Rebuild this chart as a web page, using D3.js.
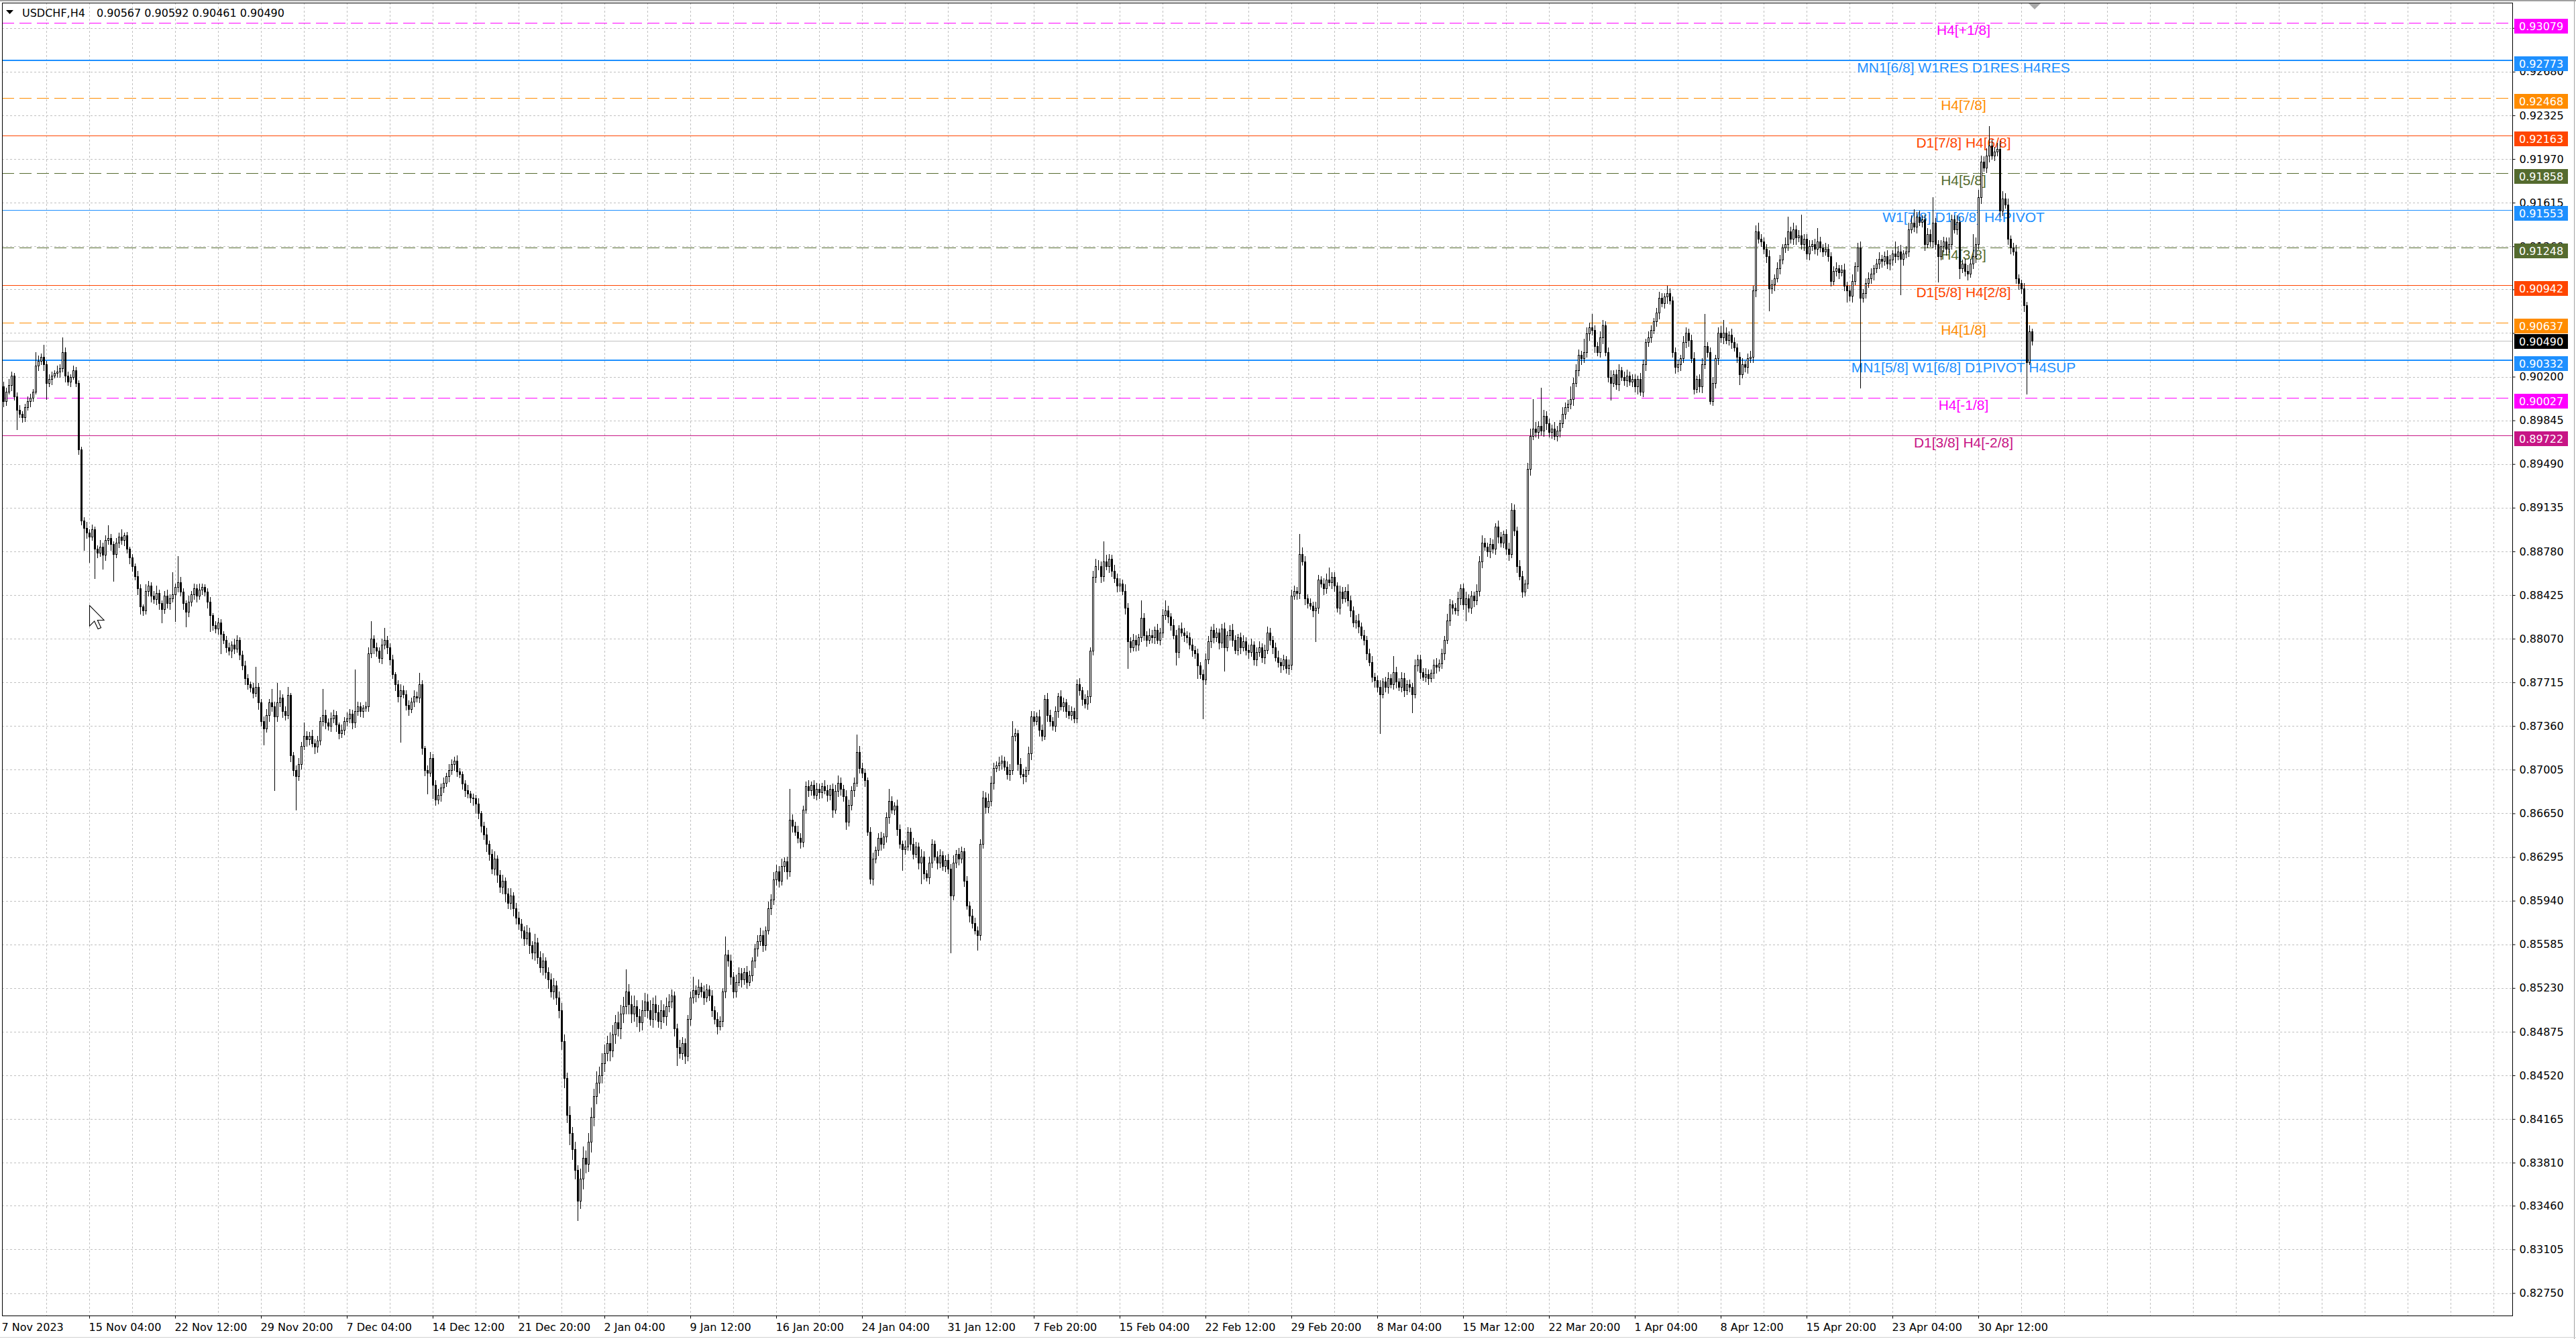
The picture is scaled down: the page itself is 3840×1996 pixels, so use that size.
<!DOCTYPE html>
<html><head><meta charset="utf-8">
<script src="https://cdn.jsdelivr.net/npm/d3@7/dist/d3.min.js"></script>
<style>
html,body{margin:0;padding:0;background:#fff;}
svg{display:block;}
</style></head><body>
<svg id="chart" width="3840" height="1996"></svg>
<script>
// ---------------- DATA (prices in pips, 1 pip = 0.0001) ----------------
const symbolTitle = "USDCHF,H4";
const firstOpen = 9012;
const closes = [
9000,9008,9013,9021,9004,8993,8990,8987,8995,9000,9003,9008,9029,9033,9036,9030,
9015,9018,9021,9023,9024,9027,9040,9021,9016,9020,9025,9015,8961,8903,8897,8893,
8890,8896,8880,8877,8882,8875,8887,8889,8884,8876,8885,8890,8887,8891,8880,8873,
8866,8858,8848,8833,8830,8846,8850,8842,8839,8844,8836,8831,8842,8836,8840,8843,
8849,8853,8845,8836,8829,8837,8843,8848,8842,8847,8849,8845,8837,8826,8818,8815,
8820,8811,8806,8800,8797,8802,8799,8806,8794,8785,8775,8770,8767,8763,8768,8755,
8740,8734,8745,8755,8752,8744,8755,8759,8748,8745,8761,8712,8700,8695,8705,8720,
8728,8725,8728,8722,8719,8724,8740,8745,8739,8736,8742,8745,8737,8730,8733,8740,
8742,8746,8739,8748,8752,8748,8751,8752,8795,8807,8800,8797,8791,8802,8806,8800,
8790,8778,8770,8760,8765,8762,8753,8750,8756,8760,8759,8770,8718,8700,8698,8710,
8688,8676,8680,8686,8690,8695,8700,8705,8708,8699,8697,8689,8684,8681,8678,8677,
8673,8665,8655,8648,8640,8632,8620,8628,8615,8605,8610,8600,8592,8598,8588,8580,
8575,8570,8563,8568,8558,8552,8560,8548,8540,8545,8536,8530,8520,8525,8515,8505,
8480,8450,8420,8405,8392,8375,8350,8368,8385,8380,8398,8418,8435,8446,8452,8462,
8470,8478,8472,8485,8495,8490,8502,8508,8520,8510,8502,8508,8500,8495,8505,8512,
8505,8498,8510,8503,8496,8505,8500,8508,8512,8517,8490,8475,8470,8478,8468,8498,
8515,8521,8518,8524,8520,8515,8522,8517,8505,8498,8492,8496,8520,8550,8545,8532,
8520,8528,8535,8530,8536,8528,8533,8545,8555,8561,8566,8558,8570,8588,8595,8611,
8618,8610,8622,8626,8618,8660,8655,8650,8645,8642,8668,8687,8684,8688,8680,8685,
8682,8687,8684,8680,8685,8668,8683,8690,8685,8679,8658,8672,8684,8690,8715,8702,
8698,8692,8650,8612,8628,8635,8645,8640,8646,8662,8675,8668,8671,8652,8640,8636,
8638,8650,8640,8632,8638,8625,8630,8616,8613,8625,8640,8630,8625,8631,8622,8627,
8620,8598,8625,8632,8628,8634,8610,8590,8582,8576,8570,8566,8640,8678,8670,8675,
8690,8702,8704,8706,8708,8703,8697,8700,8728,8730,8705,8697,8695,8700,8714,8744,
8740,8744,8733,8728,8758,8745,8740,8736,8748,8760,8752,8755,8748,8745,8748,8742,
8770,8765,8758,8754,8760,8797,8857,8866,8866,8858,8870,8866,8872,8862,8856,8850,
8852,8846,8832,8805,8800,8806,8802,8808,8824,8810,8806,8810,8808,8814,8806,8812,
8826,8830,8825,8818,8810,8796,8815,8812,8810,8808,8802,8798,8795,8785,8778,8774,
8790,8805,8814,8808,8812,8804,8815,8800,8810,8814,8806,8798,8808,8800,8805,8798,
8796,8802,8790,8796,8800,8792,8798,8812,8806,8800,8792,8788,8785,8790,8783,8786,
8842,8846,8844,8876,8870,8840,8836,8834,8830,8832,8855,8852,8848,8855,8853,8857,
8850,8832,8845,8840,8846,8838,8830,8820,8822,8817,8810,8806,8795,8788,8776,8773,
8768,8762,8772,8768,8775,8770,8780,8772,8768,8775,8765,8770,8768,8762,8785,8790,
8780,8776,8778,8775,8779,8786,8784,8787,8795,8806,8822,8835,8832,8830,8840,8848,
8835,8840,8832,8842,8838,8846,8870,8885,8882,8878,8884,8880,8898,8890,8885,8892,
8880,8876,8912,8895,8866,8858,8845,8852,8945,8972,8978,8975,8980,8976,8988,8982,
8975,8978,8972,8976,8982,8990,8995,8998,9002,9015,9025,9038,9035,9040,9055,9060,
9058,9045,9040,9052,9062,9040,9020,9015,9022,9014,9025,9020,9017,9021,9016,9018,
9012,9018,9008,9030,9048,9052,9058,9065,9072,9084,9080,9085,9088,9082,9040,9028,
9030,9035,9048,9056,9050,9035,9010,9018,9012,9030,9045,9040,9000,9015,9035,9056,
9052,9056,9050,9054,9048,9044,9036,9022,9030,9028,9035,9036,9090,9138,9132,9130,
9124,9118,9092,9095,9100,9108,9115,9125,9128,9138,9132,9140,9133,9135,9128,9132,
9120,9126,9128,9124,9130,9125,9122,9124,9118,9098,9106,9108,9105,9107,9094,9090,
9086,9098,9110,9125,9084,9088,9096,9100,9104,9108,9112,9116,9114,9118,9112,9115,
9120,9118,9122,9116,9120,9122,9140,9145,9142,9150,9146,9148,9128,9136,9130,9145,
9128,9118,9126,9130,9124,9128,9148,9140,9146,9108,9112,9106,9104,9112,9118,9128,
9166,9195,9190,9200,9208,9200,9203,9205,9155,9165,9160,9132,9125,9122,9100,9096,
9092,9078,9032,9056.7,9049
];
// upper wick length above the body (pips)
const highWicks = [
4,3,5,3,2,3,4,2,3,4,3,2,11,4,3,10,
3,4,3,2,5,3,12,4,3,2,4,3,2,2,3,5,
3,4,2,3,5,3,4,10,3,2,4,3,6,2,3,2,
3,2,4,3,2,5,4,3,4,6,3,2,4,5,3,18,
3,21,4,3,2,5,3,4,3,5,3,2,3,4,2,3,
4,3,2,3,4,3,5,4,2,3,4,3,2,4,16,3,
3,4,5,3,11,4,16,6,3,4,7,2,3,4,5,3,
11,4,3,5,3,4,3,21,4,3,5,4,3,2,4,3,
5,4,3,34,4,3,2,4,5,14,3,4,3,5,10,3,
3,4,2,3,5,4,3,4,3,5,4,9,3,2,4,5,
3,4,5,3,4,3,5,4,3,4,3,2,3,4,2,3,
3,4,2,3,5,3,4,6,3,4,5,3,4,6,3,4,
5,4,3,6,4,3,7,4,5,6,3,4,5,6,4,5,
6,5,4,7,5,6,4,8,9,6,7,8,6,9,7,8,
7,6,9,8,6,9,7,8,18,6,7,9,5,6,8,7,
6,8,5,7,6,8,5,7,6,5,3,4,6,5,4,3,
5,11,4,6,3,5,4,3,4,3,5,4,3,15,4,5,
4,6,5,4,3,5,4,3,4,5,6,4,3,5,4,6,
5,4,6,3,4,25,4,3,5,4,3,4,5,3,4,5,
4,3,5,4,3,4,5,6,4,3,5,4,3,4,14,5,
4,3,2,4,5,3,4,5,3,4,10,4,3,5,4,3,
5,4,3,5,4,3,6,4,3,5,4,3,4,5,3,4,
5,4,6,3,5,4,3,4,3,5,4,3,4,5,4,6,
5,4,3,5,4,3,4,5,12,4,3,5,4,3,5,4,
4,3,5,4,3,5,4,3,4,3,5,4,3,5,4,3,
4,5,3,4,5,3,5,6,5,4,16,5,4,3,5,4,
4,3,5,4,3,5,4,3,14,4,3,5,4,3,5,4,
5,8,4,3,5,4,3,5,4,3,4,5,3,4,3,4,
5,4,3,5,4,3,4,5,3,4,5,4,3,4,5,3,
4,5,3,4,5,3,4,5,4,3,4,5,3,4,3,4,
5,4,3,16,5,4,3,4,3,5,4,3,4,5,10,4,
4,3,5,4,3,5,4,3,4,5,3,4,3,4,5,3,
4,5,3,4,5,3,13,4,3,5,4,3,4,3,5,4,
4,3,5,4,3,4,5,3,4,3,5,4,3,4,5,3,
4,5,3,4,3,5,4,6,4,3,5,4,3,5,4,3,
4,5,5,4,3,5,4,3,5,6,24,5,4,31,5,4,
4,3,5,4,3,5,4,3,10,4,5,4,3,11,5,4,
11,4,3,5,4,3,4,5,3,4,5,3,4,5,3,4,
4,3,5,4,3,5,4,3,4,5,4,3,6,4,3,4,
4,3,5,4,3,4,5,3,4,5,26,3,4,5,3,4,
5,10,4,3,5,4,3,4,5,3,4,5,4,5,7,4,
3,4,5,4,3,5,4,3,5,12,4,5,3,4,17,4,
4,5,3,4,11,4,3,5,4,3,4,5,3,4,5,3,
4,5,3,4,5,3,4,5,4,3,4,5,3,4,5,4,
3,10,4,5,3,4,5,6,11,4,5,3,4,5,4,21,
4,3,5,4,3,5,4,3,5,4,3,4,5,4,18,5,
6,5,4,6,16,5,4,5,7,6,4,5,3,4,5,3,
3,4,3,5,2.5
];
// lower wick length below the body (pips)
const lowWicks = [
4,3,2,4,3,16,3,4,3,2,4,3,2,4,3,5,
13,3,4,2,3,4,3,5,3,4,2,3,4,3,18,4,
21,3,24,4,3,11,4,3,5,22,3,4,3,4,3,5,
4,3,5,6,4,3,4,5,3,4,5,11,3,4,5,3,
22,4,3,5,12,4,3,4,5,3,4,3,5,13,4,3,
4,16,3,4,3,5,4,3,4,3,5,4,3,4,3,5,
4,13,3,5,4,60,4,3,5,4,3,5,4,27,3,4,
3,5,4,3,5,4,3,4,5,3,4,3,5,4,3,4,
4,3,5,4,3,4,5,3,4,3,5,4,3,4,3,5,
4,3,5,4,37,3,4,5,3,4,3,4,5,4,17,3,
11,4,3,5,4,3,4,3,5,4,3,4,5,3,4,5,
8,4,5,4,6,5,4,5,6,4,5,7,4,5,6,5,
4,6,5,4,7,5,6,5,4,6,5,7,4,6,5,6,
7,8,6,9,8,7,16,6,8,7,6,8,7,6,8,6,
7,6,8,5,7,6,8,7,6,8,7,6,8,7,6,5,
6,5,7,6,5,6,5,7,4,5,6,15,4,5,6,4,
5,4,6,3,4,5,3,4,5,4,6,3,4,5,4,6,
5,4,3,6,4,5,3,4,5,6,3,5,4,3,5,4,
4,5,3,4,6,4,5,3,4,5,4,3,5,4,3,4,
5,4,3,5,4,6,3,4,5,4,6,3,4,5,3,4,
4,5,3,4,5,3,4,5,3,4,5,3,4,5,3,17,
4,3,5,4,3,5,17,4,3,5,4,3,5,4,3,4,
4,46,3,4,5,3,4,3,5,4,3,12,4,3,5,4,
4,5,3,4,5,3,4,5,3,4,5,3,6,4,3,5,
4,3,5,4,3,5,4,3,4,5,3,4,5,3,4,3,
3,4,5,3,4,5,3,4,3,5,4,3,5,4,3,5,
4,3,5,22,4,3,5,4,3,4,5,3,4,5,3,4,
4,3,5,4,3,10,4,3,5,4,3,5,4,10,3,32,
4,3,5,4,3,5,4,19,3,4,5,3,4,5,3,4,
5,3,4,5,3,4,5,3,4,5,3,4,5,3,4,5,
4,3,5,4,3,5,4,3,5,25,4,3,5,4,3,5,
4,3,5,4,3,4,5,3,4,5,3,4,5,3,4,5,
4,32,3,4,5,3,4,5,3,4,5,3,4,15,3,4,
5,3,4,5,3,4,5,3,4,5,3,4,5,3,4,5,
4,13,3,4,5,3,4,5,3,4,5,3,4,5,3,4,
4,5,3,4,5,3,4,3,4,5,3,4,5,3,4,5,
4,5,3,4,5,3,4,3,4,5,3,4,5,3,4,5,
4,5,3,4,5,3,4,14,3,4,5,3,4,5,3,4,
4,6,3,4,5,3,4,3,4,5,3,4,5,3,4,5,
4,5,3,4,5,3,4,3,4,5,3,4,2,3,4,5,
4,5,3,4,5,3,4,8,3,4,5,3,4,5,3,4,
4,5,18,4,5,3,4,3,4,5,3,4,5,3,4,5,
4,5,3,4,5,3,4,3,4,4,3,4,5,3,4,9,
4,5,3,4,73,3,4,3,4,5,3,4,5,3,4,5,
4,5,3,29,5,3,4,3,4,5,3,4,5,3,4,5,
4,21,3,4,5,3,4,3,4,8,3,4,5,3,4,5,
4,5,3,4,5,3,4,3,5,4,3,4,5,3,4,5,
4,5,26,2,2.9
];
// time axis: one label every 32 bars
const timeLabels = ["7 Nov 2023","15 Nov 04:00","22 Nov 12:00","29 Nov 20:00","7 Dec 04:00","14 Dec 12:00",
  "21 Dec 20:00","2 Jan 04:00","9 Jan 12:00","16 Jan 20:00","24 Jan 04:00","31 Jan 12:00","7 Feb 20:00",
  "15 Feb 04:00","22 Feb 12:00","29 Feb 20:00","8 Mar 04:00","15 Mar 12:00","22 Mar 20:00","1 Apr 04:00",
  "8 Apr 12:00","15 Apr 20:00","23 Apr 04:00","30 Apr 12:00"];
const barsPerTimeLabel = 32;
const barsPerGrid = 16;
// price axis grid values and their labels ("" = label hidden under a price tag in the original)
const priceTicks = ["0.82750","0.83105","0.83460","0.83810","0.84165","0.84520","0.84875","0.85230","0.85585",
  "0.85940","0.86295","0.86650","0.87005","0.87360","0.87715","0.88070","0.88425","0.88780","0.89135","0.89490",
  "0.89845","0.90200","0.90555","0.90910","0.91260","0.91615","0.91970","0.92325","0.92680","0.93035"];
const hiddenTickLabels = ["0.90555","0.90910","0.93035"];
// Murrey / pivot levels
const levelValues = [0.93079,0.92773,0.92468,0.92163,0.91858,0.91553,0.91248,0.90942,0.90637,0.90332,0.90027,0.89722];
const levelNames = ["H4[+1/8]","MN1[6/8] W1RES D1RES H4RES","H4[7/8]","D1[7/8] H4[6/8]","H4[5/8]",
  "W1[7/8] D1[6/8] H4PIVOT","H4[3/8]","D1[5/8] H4[2/8]","H4[1/8]","MN1[5/8] W1[6/8] D1PIVOT H4SUP",
  "H4[-1/8]","D1[3/8] H4[-2/8]"];

// ---------------- STYLE ----------------
const levelStyle = [
  {c:"#ff00ff",w:1,d:"18,8"},{c:"#1e90ff",w:2,d:null},{c:"#ff8c00",w:1,d:"18,8"},{c:"#ff4500",w:1,d:null},
  {c:"#556b2f",w:1,d:"18,8"},{c:"#1e90ff",w:1,d:null},{c:"#556b2f",w:1,d:"18,8"},{c:"#ff4500",w:1,d:null},
  {c:"#ff8c00",w:1,d:"18,8"},{c:"#1e90ff",w:2,d:null},{c:"#ff00ff",w:1,d:"18,8"},{c:"#c71585",w:1,d:null}
];
const FONT = "'DejaVu Sans', Verdana, sans-serif";
const LFONT = "'Liberation Sans', Arial, sans-serif";

const W = 3840, H = 1996;
const plot = {left:3, top:4, right:3745, bottom:1961};
const pip = 1e-4;

const svg = d3.select("#chart");
svg.append("rect").attr("width",W).attr("height",H).attr("fill","#fff");

const n = closes.length;
const x = d3.scaleLinear().domain([0, n-1]).range([5, 5 + 4*(n-1)]);
const y = d3.scaleLinear().domain([0.8275, 0.9325]).range([1927.5, 1927.5 - 0.105*18335]);

const bars = closes.map((c,i) => {
  const o = i === 0 ? firstOpen : closes[i-1];
  return {i, o:o*pip, c:c*pip,
    h:(Math.max(o,c) + highWicks[i])*pip,
    l:(Math.min(o,c) - lowWicks[i])*pip};
});

// clip for plot area
svg.append("clipPath").attr("id","plotclip").append("rect")
  .attr("x",plot.left).attr("y",plot.top).attr("width",plot.right-plot.left).attr("height",plot.bottom-plot.top);

// grid
const grid = svg.append("g").attr("clip-path","url(#plotclip)")
  .attr("stroke","#c0c0c0").attr("stroke-width",1).attr("stroke-dasharray","3,3");
grid.selectAll("line.h").data(priceTicks).join("line").attr("class","h")
  .attr("x1",plot.left).attr("x2",plot.right)
  .attr("y1",d=>Math.round(y(+d))+0.5).attr("y2",d=>Math.round(y(+d))+0.5);
const vGridIdx = d3.range(barsPerGrid, 1000, barsPerGrid).filter(k => x(k) < plot.right - 2);
grid.selectAll("line.v").data(vGridIdx).join("line").attr("class","v")
  .attr("y1",plot.top).attr("y2",plot.bottom)
  .attr("x1",d=>Math.round(x(d))+0.5).attr("x2",d=>Math.round(x(d))+0.5);

// level lines
const lv = svg.append("g").attr("clip-path","url(#plotclip)");
levelValues.forEach((v,j) => {
  const st = levelStyle[j];
  const yy = st.w === 2 ? Math.round(y(v)) : Math.round(y(v)) + 0.5;
  lv.append("line").attr("x1",plot.left).attr("x2",plot.right).attr("y1",yy).attr("y2",yy)
    .attr("stroke",st.c).attr("stroke-width",st.w).attr("stroke-dasharray",st.d);
});
// current price line
const last = bars[n-1];
lv.append("line").attr("x1",plot.left).attr("x2",plot.right)
  .attr("y1",Math.round(y(last.c))+0.5).attr("y2",Math.round(y(last.c))+0.5)
  .attr("stroke","#c0c0c0").attr("stroke-width",1);

// level labels
const lt = svg.append("g");
levelValues.forEach((v,j) => {
  lt.append("text").attr("x",2927).attr("y",Math.round(y(v))+18)
    .attr("text-anchor","middle").attr("font-family",LFONT).attr("font-size","21px")
    .attr("fill",levelStyle[j].c).text(levelNames[j]);
});

// candles
const cg = svg.append("g").attr("clip-path","url(#plotclip)");
cg.selectAll("line.wick").data(bars).join("line").attr("class","wick")
  .attr("x1",d=>Math.round(x(d.i))+0.5).attr("x2",d=>Math.round(x(d.i))+0.5)
  .attr("y1",d=>Math.round(y(d.h))).attr("y2",d=>Math.round(y(d.l))+1)
  .attr("stroke","#000").attr("stroke-width",1);
cg.selectAll("rect.body").data(bars).join("rect").attr("class","body")
  .attr("x",d=>Math.round(x(d.i))-0.5)
  .attr("width",2)
  .attr("y",d=>Math.round(y(Math.max(d.o,d.c)))+0.5)
  .attr("height",d=>Math.max(0, Math.round(y(Math.min(d.o,d.c))) - Math.round(y(Math.max(d.o,d.c)))))
  .attr("fill",d=>d.c >= d.o ? "#fff" : "#000")
  .attr("stroke","#000").attr("stroke-width",1);

// right price axis
const yAxis = d3.axisRight(y).tickValues(priceTicks.map(Number))
  .tickFormat((d,i)=>hiddenTickLabels.includes(priceTicks[i]) ? "" : priceTicks[i]).tickSize(4).tickPadding(6);
const ya = svg.append("g").attr("transform",`translate(${plot.right+0.5},0)`).call(yAxis);
ya.select(".domain").remove();
ya.selectAll("text").attr("font-family",FONT).attr("font-size","16px").attr("fill","#000");
ya.selectAll(".tick line").attr("stroke","#000");

// bottom time axis
const tIdx = timeLabels.map((_,k)=>k*barsPerTimeLabel);
const xAxis = d3.axisBottom(x).tickValues(tIdx).tickFormat((d,k)=>timeLabels[k]).tickSize(4).tickPadding(7);
const xa = svg.append("g").attr("transform",`translate(0,${plot.bottom+0.5})`).call(xAxis);
xa.select(".domain").remove();
xa.selectAll("text").attr("font-family",FONT).attr("font-size","16px").attr("fill","#000")
  .attr("text-anchor","start").attr("dx","-1px");
xa.selectAll(".tick line").attr("stroke","#000");
xa.selectAll(".tick").filter((d,k)=>k===0).select("line").remove();
xa.selectAll(".tick").filter((d,k)=>k===0).select("text").attr("dx","-3px");

// price tags on the axis
const tags = svg.append("g");
function tag(v, color, off){
  const cy = Math.round(y(v)) + off;
  tags.append("rect").attr("x",plot.right+3).attr("y",cy-11).attr("width",80).attr("height",22).attr("fill",color);
  tags.append("text").attr("x",plot.right+10).attr("y",cy+6).attr("font-family",FONT).attr("font-size","16px")
    .attr("fill","#fff").text(v.toFixed(5));
}
levelValues.forEach((v,j)=>tag(v, levelStyle[j].c, 5));
tag(last.c, "#000", 1);

// plot frame
svg.append("rect").attr("x",plot.left+0.5).attr("y",plot.top+0.5)
  .attr("width",plot.right-plot.left).attr("height",plot.bottom-plot.top)
  .attr("fill","none").attr("stroke","#000").attr("stroke-width",1);

// window edges
svg.append("rect").attr("x",0).attr("y",0).attr("width",W).attr("height",2).attr("fill","#a0a0a0");
svg.append("line").attr("x1",W-2.5).attr("x2",W-2.5).attr("y1",0).attr("y2",H).attr("stroke","#a0a0a0");
svg.append("line").attr("x1",0).attr("x2",W).attr("y1",1993.5).attr("y2",1993.5).attr("stroke","#d0d0d0");

// chart-shift marker
const sx = Math.round(x(n-1)) + 4;
svg.append("path").attr("d",`M${sx-9},5 L${sx+9},5 L${sx},14 Z`).attr("fill","#a8a8a8");

// title
svg.append("path").attr("d","M9,15 L20,15 L14.5,21 Z").attr("fill","#000");
svg.append("text").attr("x",33).attr("y",25).attr("font-family",FONT).attr("font-size","16px").attr("fill","#000")
  .text(symbolTitle);
svg.append("text").attr("x",144).attr("y",25).attr("font-family",FONT).attr("font-size","16px").attr("fill","#000")
  .text([last.o,last.h,last.l,last.c].map(v=>v.toFixed(5)).join(" "));

// mouse pointer
svg.append("path").attr("transform","translate(133.5,902.5) scale(1.8)")
  .attr("d","M0,0 L0,17 L4,13 L7,19.5 L9.5,18.5 L6.6,12.2 L12,12.2 Z")
  .attr("fill","#fff").attr("stroke","#000").attr("stroke-width",0.6);
</script>
</body></html>
